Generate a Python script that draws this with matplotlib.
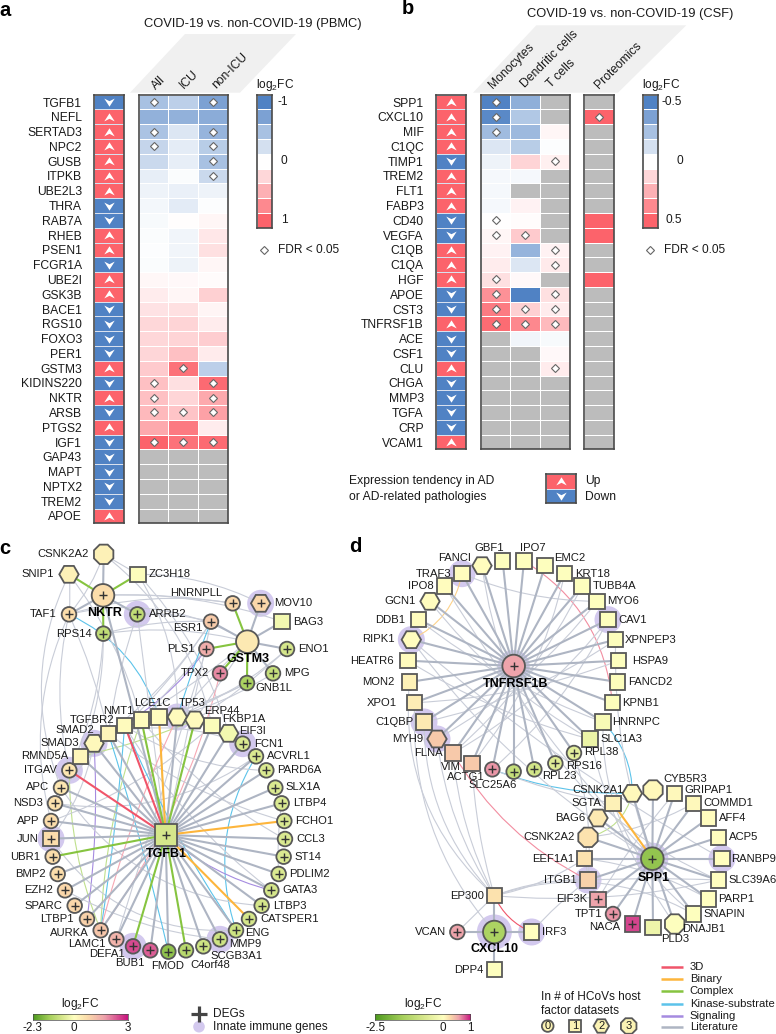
import numpy as np
import matplotlib
matplotlib.use("Agg")
import matplotlib.pyplot as plt
from matplotlib.colors import LinearSegmentedColormap, ListedColormap
from matplotlib.patches import Circle, RegularPolygon, Rectangle, Polygon, PathPatch
from matplotlib.path import Path

plt.rcParams['font.family'] = ['Liberation Sans', 'DejaVu Sans']
plt.rcParams['mathtext.fontset'] = 'custom'
plt.rcParams['mathtext.rm'] = 'Liberation Sans'
plt.rcParams['mathtext.default'] = 'rm'

W, H = 776, 1034
n = np.nan

# ---------------- heatmap data ----------------
genes_a = ["TGFB1","NEFL","SERTAD3","NPC2","GUSB","ITPKB","UBE2L3","THRA","RAB7A","RHEB","PSEN1","FCGR1A",
           "UBE2I","GSK3B","BACE1","RGS10","FOXO3","PER1","GSTM3","KIDINS220","NKTR","ARSB","PTGS2","IGF1",
           "GAP43","MAPT","NPTX2","TREM2","APOE"]
trend_a = [-1,1,1,1,1,1,1,-1,-1,1,1,-1,1,1,-1,-1,-1,-1,1,-1,1,-1,1,-1,-1,-1,-1,-1,1]
cols_a = ["All","ICU","non-ICU"]
values_a = [[-.5,-.38,-.75],[-.62,-.62,-.66],[-.48,-.2,-.6],[-.33,-.15,-.4],[-.3,-.14,-.5],[-.14,-.03,-.3],
            [-.1,-.12,-.1],[-.07,-.16,-.02],[-.04,.01,.06],[-.03,-.08,.15],[-.02,-.08,.2],[-.03,-.1,.06],
            [.05,.04,.03],[.12,.06,.3],[.18,.2,.07],[.25,.28,.12],[.25,.28,.32],[.26,.4,.13],[.34,.9,-.38],
            [.4,.2,.95],[.4,.27,.55],[.45,.38,.6],[.55,.85,.12],[1,.9,.95],
            [n,n,n],[n,n,n],[n,n,n],[n,n,n],[n,n,n]]
fdr_a = [(0,0),(0,2),(2,0),(2,2),(3,0),(3,2),(4,2),(5,2),(18,1),(19,0),(19,2),(20,0),(20,2),
         (21,0),(21,1),(21,2),(23,0),(23,1),(23,2)]

genes_b = ["SPP1","CXCL10","MIF","C1QC","TIMP1","TREM2","FLT1","FABP3","CD40","VEGFA","C1QB","C1QA","HGF",
           "APOE","CST3","TNFRSF1B","ACE","CSF1","CLU","CHGA","MMP3","TGFA","CRP","VCAM1"]
trend_b = [1,1,1,1,-1,1,1,1,-1,-1,1,1,1,-1,-1,1,-1,-1,1,-1,-1,-1,-1,1]
cols_b = ["Monocytes","Dendritic cells","T cells"]
values_b = [[-.5,-.32,n],[-.47,-.22,n],[-.27,-.28,.03],[-.1,-.2,-.01],[-.05,.14,.05],[-.03,-.03,n],[-.03,n,n],
            [-.03,.04,n],[0,.01,n],[.03,.17,n],[.04,-.3,.04],[.06,-.1,.07],[.1,.02,n],[.35,-.5,.1],[.42,.15,.06],
            [.47,.38,.22],[n,-.04,-.02],[n,n,.02],[n,n,.06],[n,n,n],[n,n,n],[n,n,n],[n,n,n],[n,n,n]]
fdr_b = [(0,0),(1,0),(2,0),(4,2),(8,0),(9,0),(9,1),(10,2),(11,2),(12,0),(13,0),(13,2),(14,0),(14,1),(14,2),
         (15,0),(15,1),(15,2),(18,2)]
prot_b = [n,.5,n,n,n,n,n,n,.5,.5,n,n,.5,n,n,n,n,n,n,n,n,n,n,n]
fdr_prot = [1]
cbar_levels = [-1,-.75,-.5,-.25,0,.25,.5,.75,1]

BLUE, RED, GRAY = "#5082c4", "#fc636b", "#bcbcbc"
heat = LinearSegmentedColormap.from_list("h", [BLUE, "#ffffff", RED])
heat.set_bad(GRAY)
strip_cm = ListedColormap([BLUE, RED])
FRAME = "#4a4a4a"
R = 14.78

fig = plt.figure(figsize=(W/100, H/100), dpi=100)
bg = fig.add_axes([0, 0, 1, 1], zorder=0)
bg.set_xlim(0, W); bg.set_ylim(H, 0); bg.axis("off")

def pxaxes(x0, y0, x1, y1, z=2):
    a = fig.add_axes([x0/W, 1-y1/H, (x1-x0)/W, (y1-y0)/H], zorder=z)
    a.set_xticks([]); a.set_yticks([])
    for s in a.spines.values():
        s.set_linewidth(1.2); s.set_color(FRAME)
    return a

up_chev = Path([(-1,-.75),(0,.8),(1,-.75),(0,-.25),(-1,-.75)], closed=True)
dn_chev = Path([(-1,.75),(0,-.8),(1,.75),(0,.25),(-1,.75)], closed=True)
CH = 7.5

def strip(x0, x1, y0, genes, tr):
    a = pxaxes(x0, y0, x1, y0+R*len(genes))
    arr = np.array(tr, float)[:, None]
    a.pcolormesh(arr, cmap=strip_cm, vmin=-1, vmax=1, edgecolors="#d8e0ee", linewidth=.45)
    a.set_ylim(len(genes), 0)
    for i, t in enumerate(tr):
        a.plot(.5, i+.5, marker=up_chev if t > 0 else dn_chev, ms=CH, color="white", mew=0)
    a.set_yticks(np.arange(len(genes))+.5)
    a.set_yticklabels(genes, fontsize=8.7, color="#1a1a1a")
    a.tick_params(length=0, pad=9)
    return a

def hmap(x0, x1, y0, vals, fdr, vmax=1.0):
    arr = np.array(vals, float)
    a = pxaxes(x0, y0, x1, y0+R*arr.shape[0])
    a.pcolormesh(np.ma.masked_invalid(arr), cmap=heat, vmin=-vmax, vmax=vmax, edgecolors="white", linewidth=.45)
    a.set_ylim(arr.shape[0], 0)
    for r, c in fdr:
        a.plot(c+.5, r+.5, marker="D", ms=4.2, mfc="white", mec="#666666", mew=.8)
    return a

def cbar(x0, x1, y0, scale):
    a = pxaxes(x0, y0, x1, y0+R*9)
    a.pcolormesh(np.array(cbar_levels)[:, None]*scale, cmap=heat, vmin=-scale, vmax=scale, edgecolors="white", linewidth=.45)
    a.set_ylim(9, 0)
    return a

TOP = 94.7
strip(94.3, 124, TOP, genes_a, trend_a)
hmap(138.7, 227.7, TOP, values_a, fdr_a)
cbar(256.7, 271.7, TOP, 1)
strip(436.3, 466, TOP, genes_b, trend_b)
hmap(480.7, 569.7, TOP, values_b, fdr_b, .5)
hmap(583.7, 613.7, TOP, np.array(prot_b)[:, None], [(i, 0) for i in fdr_prot], .5)
cbar(643, 658, TOP, .5)

bg.add_patch(Polygon([(130,92.7),(185,34),(296,34),(240,92.7)], fc="#f0f0f0", ec="none"))
bg.add_patch(Polygon([(473,92.7),(536.3,25.3),(686.3,25.3),(618,92.7)], fc="#f0f0f0", ec="none"))

def T(x, y, s, size=8.6, **k):
    k.setdefault("ha", "center"); k.setdefault("va", "center"); k.setdefault("color", "#1a1a1a")
    return bg.text(x, y, s, fontsize=size, **k)

T(252.7, 24, "COVID-19 vs. non-COVID-19 (PBMC)", 9.3)
T(630.3, 14, "COVID-19 vs. non-COVID-19 (CSF)", 9.3)
for (x, y), s in zip([(158.3,82.7),(189.3,79.3),(230,70.7)], cols_a):
    T(x, y, s, 8.7, rotation=45, rotation_mode="anchor")
for (x, y), s in zip([(512,65.7),(549.7,59),(561.3,74),(618,65)], cols_b+["Proteomics"]):
    T(x, y, s, 8.7, rotation=45, rotation_mode="anchor")

T(275, 85, "log$_2$FC", 8.6); T(661.3, 85, "log$_2$FC", 8.6)
for y, s, x in zip([0, 4, 8], ["-1","0","1"], [282.7,284,284]):
    T(x, TOP+(y+.5)*R, s)
for y, s, x in zip([0, 4, 8], ["-0.5","0","0.5"], [672,680,674]):
    T(x, TOP+(y+.5)*R, s)
for x, tx in [(264,277.7),(650.3,664)]:
    bg.plot(x, 250, marker="D", ms=4.2, mfc="white", mec="#666666", mew=.8)
    T(tx, 250, "FDR < 0.05", 8.6, ha="left")

T(349, 481.3, "Expression tendency in AD", 8.7, ha="left")
T(349, 496.7, "or AD-related pathologies", 8.7, ha="left")
lg = pxaxes(545.7, 474, 575.7, 503.3)
lg.pcolormesh(np.array([[1.],[-1.]]), cmap=strip_cm, vmin=-1, vmax=1, edgecolors="#d8e0ee", linewidth=.45)
lg.set_ylim(2, 0)
lg.plot(.5, .5, marker=up_chev, ms=CH, color="white", mew=0)
lg.plot(.5, 1.5, marker=dn_chev, ms=CH, color="white", mew=0)
T(584.7, 481.3, "Up", 8.7, ha="left"); T(584.7, 496.7, "Down", 8.7, ha="left")

for x, y, s in [(5,10,"a"),(408,9,"b"),(5,548,"c"),(355,547,"d")]:
    T(x, y, s, 14.5, fontweight="bold", color="black")

# ---------------- network data ----------------
net = LinearSegmentedColormap.from_list("n", [(0,"#4e9a1f"),(.2,"#a6d05c"),(.36,"#d8e88e"),(.5,"#ffffc0"),
                                              (.62,"#fbdcaa"),(.78,"#eea3ab"),(1,"#c7147e")])
def fc_col(v, lo, hi):
    return net(.5 + .5*v/hi if v >= 0 else .5 + .5*v/abs(lo))

FRAMES = {"A":(0,535), "B":(0,785), "C":(388,535), "D":(388,785)}
# name, frame, node x, node y, label x, label y, shape, log2FC, is DEG, innate immune
nodes_c = [
 ("CSNK2A2","A",311,58,190,58,"oct",.3,0,0),("SNIP1","A",207,118,114,118,"hex",.3,0,0),
 ("ZC3H18","A",414,118,508,118,"sq",-.05,0,0),("NKTR","A",309,181,313,233,"hub",.7,1,0),
 ("TAF1","A",207,238,130,238,"c",.7,1,0),("ARRB2","A",412,238,503,238,"c",-1.,1,1),
 ("RPS14","A",310,296,222,298,"c",-1.,1,0),("HNRNPLL","A",698,205,590,175,"c",.8,1,0),
 ("MOV10","A",782,205,879,205,"hex",.8,1,1),("BAG3","A",846,260,925,260,"sq",-.2,0,0),
 ("ESR1","A",633,260,563,278,"c",1.,1,0),("GSTM3","A",742,320,744,373,"hub",.45,0,0),
 ("PLS1","A",619,342,543,342,"c",1.5,1,0),("ENO1","A",861,342,940,342,"c",-.7,1,0),
 ("TPX2","A",660,415,584,414,"c",1.9,1,0),("MPG","A",819,415,890,414,"c",-.9,1,0),
 ("GNB1L","A",741,444,821,458,"c",-1.3,1,0),
 ("ITGAV","A",208,706,122,706,"c",.5,1,1),("RMND5A","A",241,664,135,664,"sq",.2,0,0),
 ("SMAD3","A",282,625,180,624,"hex",.15,0,1),("SMAD2","A",325,595,226,585,"sq",.2,0,0),
 ("TGFBR2","A",374,571,275,555,"sq",.1,0,0),("NMT1","A",424,555,355,527,"sq",.05,0,0),
 ("LCE1C","A",477,546,458,505,"sq",.05,0,0),("TP53","A",532,546,576,505,"hex",.1,0,1),
 ("ERP44","A",585,555,665,527,"hex",.1,0,0),("FKBP1A","A",636,571,730,553,"sq",-.08,0,0),
 ("EIF3I","A",686,595,757,587,"hex",-.2,0,0),("FCN1","A",728,626,805,626,"c",-.6,1,1),
 ("ACVRL1","A",768,664,866,664,"c",-.6,1,0),("PARD6A","A",799,706,899,706,"c",-.6,1,0),
 ("SLX1A","B",826,8,910,5,"c",-.6,1,0),("LTBP4","B",845,55,928,55,"c",-.6,1,0),
 ("FCHO1","B",853,108,944,108,"c",-.6,1,0),("CCL3","B",855,162,933,162,"c",-.6,1,0),
 ("ST14","B",851,215,925,215,"c",-.6,1,0),("PDLIM2","B",836,267,928,267,"c",-.6,1,0),
 ("GATA3","B",814,316,901,316,"c",-.7,1,0),("LTBP3","B",785,362,869,362,"c",-.7,1,0),
 ("CATSPER1","B",747,402,869,402,"c",-.7,1,0),("ENG","B",708,436,771,445,"c",-.8,1,0),
 ("MMP9","B",660,463,735,478,"c",-.8,1,1),("SCGB3A1","B",610,484,711,512,"c",-.8,1,0),
 ("C4orf48","B",558,496,630,540,"c",-1.1,1,0),("FMOD","B",505,500,503,543,"c",-1.6,1,0),
 ("BUB1","B",451,496,391,534,"c",2.3,1,0),("DEFA1","B",399,484,320,506,"c",2.5,1,1),
 ("LAMC1","B",349,463,262,477,"c",1.4,1,0),("AURKA","B",302,436,207,443,"c",1.1,1,0),
 ("LTBP1","B",261,402,172,402,"c",.9,1,0),("SPARC","B",224,362,129,362,"c",.8,1,0),
 ("EZH2","B",195,316,115,316,"c",.8,1,0),("BMP2","B",173,267,90,267,"c",.7,1,0),
 ("UBR1","B",158,215,77,215,"c",.7,1,0),("JUN","B",153,161,82,161,"sq",.7,1,1),
 ("APP","B",153,108,85,108,"c",.7,1,0),("NSD3","B",165,55,84,55,"c",.6,1,0),
 ("APC","B",183,8,113,6,"c",.5,1,0),("TGFB1","B",497,150,500,206,"hubsq",-.7,1,0),
]
nodes_d = [
 ("TNFRSF1B","C",377,393,382,446,"hub",.55,1,1),("GBF1","C",344,78,305,40,"sq",-.03,0,0),
 ("IPO7","C",408,78,435,40,"sq",-.03,0,0),("EMC2","C",471,92,545,69,"sq",-.03,0,0),
 ("KRT18","C",530,116,615,116,"sq",-.03,0,0),("TUBB4A","C",582,153,679,153,"sq",-.03,0,0),
 ("MYO6","C",627,199,705,199,"sq",-.03,0,0),("CAV1","C",660,254,734,254,"sq",-.03,0,1),
 ("XPNPEP3","C",683,314,787,314,"sq",-.05,0,0),("HSPA9","C",692,377,786,377,"sq",-.03,0,0),
 ("FANCD2","C",689,441,786,441,"sq",-.05,0,0),("KPNB1","C",673,503,757,503,"sq",-.05,0,0),
 ("HNRNPC","C",645,561,744,561,"sq",-.15,0,0),("SLC1A3","C",606,612,700,612,"sq",-.35,0,0),
 ("RPL38","C",558,654,641,652,"c",-.5,1,0),("RPS16","C",502,685,588,692,"c",-.6,1,0),
 ("RPL23","C",439,703,514,722,"c",-.8,1,0),("SLC25A6","C",377,710,315,750,"c",-1.,1,0),
 ("ACTG1","C",313,703,235,725,"c",.6,1,0),("VIM","C",252,685,189,695,"sq",.35,0,0),
 ("FLNA","C",195,654,120,653,"sq",.35,0,0),("MYH9","C",147,612,60,612,"hex",.35,0,1),
 ("C1QBP","C",108,561,18,561,"sq",.15,0,1),("XPO1","C",80,503,-19,503,"sq",.12,0,0),
 ("MON2","C",64,441,-30,441,"sq",.1,0,0),("HEATR6","C",60,377,-48,377,"sq",.03,0,0),
 ("RIPK1","C",70,314,-29,313,"hex",.02,0,1),("DDB1","C",92,254,6,254,"sq",.02,0,0),
 ("GCN1","C",126,199,36,199,"hex",.02,0,0),("IPO8","C",170,153,97,153,"sq",.02,0,0),
 ("TRAF3","C",222,116,138,116,"sq",.02,0,1),("FANCI","C",282,92,199,70,"hex",.02,0,0),
 ("SPP1","D",793,221,797,278,"hub",-1.7,1,1),("CSNK2A1","D",733,25,630,14,"hex",.05,0,0),
 ("CYB5R3","D",795,15,892,-19,"oct",.05,0,0),("GRIPAP1","D",860,25,960,14,"sq",.05,0,0),
 ("COMMD1","D",917,55,1020,55,"sq",.05,0,0),("AFF4","D",962,99,1035,99,"sq",.02,0,0),
 ("ACP5","D",992,157,1066,157,"sq",.02,0,0),("RANBP9","D",1002,221,1098,221,"sq",.01,0,1),
 ("SLC39A6","D",991,285,1095,285,"sq",0,0,0),("PARP1","D",962,342,1045,342,"sq",0,0,0),
 ("SNAPIN","D",917,387,1008,387,"sq",-.02,0,0),("DNAJB1","D",860,417,948,432,"oct",-.02,0,0),
 ("PLD3","D",795,427,862,463,"sq",-.3,0,0),("NACA","D",733,417,650,427,"sq",.85,1,0),
 ("TPT1","D",675,387,601,387,"c",.6,1,0),("EIF3K","D",630,343,550,343,"sq",.55,1,0),
 ("ITGB1","D",600,285,518,285,"sq",.3,0,1),("EEF1A1","D",590,221,495,221,"sq",.2,0,0),
 ("CSNK2A2","D",600,157,484,157,"oct",.2,0,0),("BAG6","D",630,99,547,99,"hex",.15,0,0),
 ("SGTA","D",675,55,595,55,"sq",.1,0,0),("EP300","D",319,332,236,332,"sq",.2,0,0),
 ("CXCL10","D",319,441,320,493,"hub",-1.4,1,2),("VCAN","D",208,441,128,441,"c",.55,1,0),
 ("IRF3","D",431,441,498,441,"sq",0,0,1),("DPP4","D",319,554,242,554,"sq",-.02,0,0),
]
LIT, RD, OR, GR, BL, PU = "#aeb5c3", "#f0556a", "#fdb53c", "#86c440", "#5cc3ea", "#a58be0"
TH = "#c9cdd8"
# thick spokes: hub -> members, with the colour of the interaction
spokes_c = {
 "TGFB1":{LIT:["RMND5A","SMAD3","SMAD2","TP53","FKBP1A","EIF3I","FCN1","ACVRL1","PARD6A","SLX1A","LTBP4","CCL3","ST14",
               "PDLIM2","GATA3","LTBP3","ENG","MMP9","SCGB3A1","FMOD","BUB1","LAMC1","AURKA","LTBP1","SPARC","EZH2","BMP2",
               "JUN","APP","NSD3","APC","NKTR"],
          RD:["ITGAV","TGFBR2"],OR:["LCE1C","FCHO1","CATSPER1"],GR:["NMT1","ERP44","UBR1","DEFA1","C4orf48"]},
 "NKTR":{LIT:["CSNK2A2","TAF1","ARRB2"],GR:["SNIP1","ZC3H18","RPS14"]},
 "GSTM3":{LIT:["MOV10","BAG3","ESR1","ENO1","MPG"],GR:["HNRNPLL","PLS1","TPX2","GNB1L"]},
}
spokes_d = {
 "TNFRSF1B":{LIT:["GBF1","IPO7","EMC2","KRT18","TUBB4A","MYO6","CAV1","XPNPEP3","HSPA9","FANCD2","KPNB1","HNRNPC","SLC1A3",
                  "RPL38","RPS16","RPL23","SLC25A6","ACTG1","VIM","FLNA","MYH9","C1QBP","XPO1","MON2","HEATR6","RIPK1","DDB1",
                  "GCN1","IPO8","TRAF3","FANCI"]},
 "SPP1":{LIT:["CSNK2A1","CYB5R3","GRIPAP1","COMMD1","AFF4","ACP5","RANBP9","SLC39A6","PARP1","SNAPIN","DNAJB1","PLD3","NACA",
              "TPT1","EIF3K","ITGB1","EEF1A1","CSNK2A2","BAG6"],OR:["SGTA"]},
 "CXCL10":{LIT:["EP300","VCAN","IRF3","DPP4"]},
}
# thin curved interactions: a, b, bend, colour
arcs_c = [("CSNK2A2","ZC3H18",0,TH),("SNIP1","TAF1",.05,TH),("CSNK2A2","TAF1",.1,TH),("ZC3H18","MOV10",.12,TH),
 ("TAF1","HNRNPLL",.12,TH),("NKTR","HNRNPLL",.05,TH),("NKTR","BAG3",.1,TH),("ARRB2","ESR1",.08,TH),("RPS14","ESR1",.08,TH),
 ("RPS14","GSTM3",.1,TH),("TAF1","LCE1C",.22,BL),("TAF1","GSTM3",.2,TH),("SNIP1","APC",-.22,TH),("TAF1","SMAD2",.05,TH),
 ("TAF1","ITGAV",-.12,TH),("RPS14","RMND5A",.1,TH),("RPS14","ITGAV",.1,TH),("TAF1","APP",-.18,TH),("SNIP1","NMT1",.1,TH),
 ("CSNK2A2","FKBP1A",.18,TH),("ZC3H18","TP53",.15,TH),("ZC3H18","EIF3I",.12,TH),("ARRB2","TGFB1",0,TH),("ARRB2","SMAD2",-.05,TH),
 ("ESR1","TGFB1",0,TH),("ESR1","SMAD3",.1,TH),("ESR1","ITGAV",.1,TH),("PLS1","SMAD2",.12,PU),("PLS1","LAMC1",0,TH),
 ("PLS1","NMT1",0,TH),("ESR1","TP53",-.02,BL),("TPX2","AURKA",.1,"#f7a8b4"),("GNB1L","NMT1",.08,TH),("GNB1L","LCE1C",.05,TH),
 ("MPG","TGFBR2",.12,TH),("ENO1","SMAD2",.15,TH),("ENO1","ERP44",.05,TH),("GSTM3","TP53",-.03,TH),("GSTM3","ERP44",0,TH),
 ("GSTM3","TGFBR2",.05,TH),("ACVRL1","ENG",-.23,BL),("LTBP4","PDLIM2",-.05,TH),("GATA3","TGFB1",.12,PU),("ITGAV","AURKA",-.1,"#bfe08c"),
 ("ERP44","RMND5A",.05,"#bfe08c"),("NMT1","AURKA",-.08,"#bfe08c"),("SMAD3","JUN",.12,TH),("SMAD3","LTBP1",.05,PU),("SMAD2","FCHO1",-.1,TH),
 ("TGFBR2","GATA3",-.1,TH),("NMT1","CCL3",-.1,TH),("APC","LTBP3",-.25,TH),("JUN","ENG",-.28,TH),("EZH2","MMP9",-.1,TH),
 ("LCE1C","TGFB1",0,BL),("FCN1","SMAD2",-.15,TH),("ACVRL1","NSD3",.2,TH),("PARD6A","TGFBR2",.15,TH),("APP","FKBP1A",-.1,TH),
 ("TGFBR2","AURKA",.02,BL),("SMAD2","FMOD",.02,BL),("TP53","AURKA",-.05,"#f7a8b4"),("TGFBR2","ENG",-.05,BL),("APC","SMAD2",.1,TH),("NSD3","TGFBR2",.1,TH)]
arcs_d = [("IPO7","KPNB1",.25,"#f28da0"),("TRAF3","RIPK1",.25,"#fdd28a"),("HNRNPC","CSNK2A1",.2,BL),("ACTG1","CSNK2A1",-.1,BL),
 ("CSNK2A1","CSNK2A2",.3,"#bfe08c"),("FLNA","ITGB1",-.15,"#f28da0"),("EP300","IRF3",-.2,RD),("RIPK1","RANBP9",-.05,TH),
 ("FANCI","SLC39A6",-.28,TH),("GCN1","SLC1A3",-.1,TH),("DDB1","HNRNPC",-.08,TH),("C1QBP","XPNPEP3",-.1,TH),("XPO1","HSPA9",-.08,TH),
 ("FLNA","TUBB4A",-.1,TH),("VIM","KRT18",-.12,TH),("FLNA","CAV1",-.1,TH),("MYH9","MYO6",-.1,TH),("ACTG1","CAV1",-.1,TH),
 ("IPO8","SPP1",-.05,TH),("RIPK1","SPP1",-.1,TH),("TRAF3","MYO6",-.1,TH),("C1QBP","EP300",-.2,TH),("MYH9","EP300",-.12,TH),
 ("XPO1","CXCL10",-.2,TH),("MON2","EP300",-.25,TH),("VIM","EP300",-.06,TH),("FLNA","EP300",-.1,TH),("ACTG1","SGTA",-.05,TH),("ITGB1","EP300",-.1,TH),("EP300","SLC39A6",-.08,TH),
 ("EP300","SNAPIN",.22,TH),("IRF3","ITGB1",.05,TH),("EP300","EEF1A1",-.1,TH),("VCAN","EP300",0,TH),
 ("SLC1A3","DNAJB1",-.1,TH),("HNRNPC","SNAPIN",-.25,TH),("EEF1A1","PARP1",.1,TH),("ITGB1","SLC39A6",.02,TH),("TPT1","CSNK2A2",.3,TH),
 ("GRIPAP1","EIF3K",-.05,TH),("CSNK2A2","COMMD1",-.1,TH),("RPL38","ITGB1",.1,TH),("XPNPEP3","SPP1",-.1,TH),("HEATR6","SLC1A3",-.08,TH)]

cb_c = (-2.3, 0, 3); cb_d = (-2.5, 0, 1)
edge_legend = ["3D","Binary","Complex","Kinase-substrate","Signaling","Literature"]
edge_legend_cols = [RD, OR, GR, BL, PU, LIT]
host_counts = ["0","1","2","3"]
host_shapes = ["c","sq","hex","oct"]

EC = "#585858"

def xy(f, x, y):
    ox, oy = FRAMES[f]
    return ox + x/3, oy + y/3

def shape(x, y, kind, col, z=5, s=1.0):
    kw = dict(fc=col, ec=EC, lw=1.3, zorder=z)
    if kind == "c": p = Circle((x, y), 7.3*s, **kw)
    elif kind == "hub": p = Circle((x, y), 11.3*s, **kw)
    elif kind == "sq": p = Rectangle((x-7.7*s, y-7.7*s), 15.4*s, 15.4*s, **kw)
    elif kind == "hubsq": p = Rectangle((x-11, y-11), 22, 22, **kw)
    elif kind == "hex": p = RegularPolygon((x, y), 6, radius=9.7*s, orientation=np.pi/2, **kw)
    else: p = RegularPolygon((x, y), 8, radius=10.5*s, orientation=np.pi/8, **kw)
    bg.add_patch(p)

def curve(a, b, rad, col, lw=.8, z=3):
    (x0, y0), (x1, y1) = a, b
    mx, my = (x0+x1)/2 + rad*(y1-y0), (y0+y1)/2 - rad*(x1-x0)
    bg.add_patch(PathPatch(Path([a, (mx, my), b], [Path.MOVETO, Path.CURVE3, Path.CURVE3]),
                           fc="none", ec=col, lw=lw, zorder=z))

def network(nodes, spokes, arcs, lo, hi, bold):
    pos = {r[0]: xy(r[1], r[2], r[3]) for r in nodes}
    for a, b, rad, col in arcs:
        curve(pos[a], pos[b], rad, col, .8, 2.5)
    for hub, groups in spokes.items():
        for col, members in groups.items():
            for m in members:
                bg.plot(*zip(pos[hub], pos[m]), color=col, lw=1.5, zorder=3 if col == LIT else 3.2, solid_capstyle="butt")
    for name, f, x, y, lx, ly, kind, fc, deg, hl in nodes:
        px, py = xy(f, x, y)
        if hl:
            r = {1: 13.5, 2: 17.5}[hl] if kind != "hub" else 16 if hl == 1 else 17.5
            bg.add_patch(Circle((px, py), r, fc="#d3c9ee", ec="none", zorder=2))
        shape(px, py, kind, fc_col(fc, lo, hi))
        if deg:
            bg.plot(px, py, marker="+", ms=5.5, mew=1, color="#333333", zorder=6)
        tx, ty = xy(f, lx, ly)
        if name in bold:
            T(tx, ty, name, 9, fontweight="bold", color="black", zorder=7)
        else:
            T(tx, ty, name, 8.1, zorder=7)

network(nodes_c, spokes_c, arcs_c, cb_c[0], cb_c[2], {"NKTR","GSTM3","TGFB1"})
network(nodes_d, spokes_d, arcs_d, cb_d[0], cb_d[2], {"TNFRSF1B","SPP1","CXCL10"})

# colour bars of the networks
def netbar(x0, x1, rng):
    a = pxaxes(x0, 1013.7, x1, 1019.7)
    g = np.linspace(rng[0], rng[2], 256)
    cols = np.array([fc_col(v, rng[0], rng[2]) for v in g])[None, :, :]
    a.imshow(cols, aspect="auto", extent=(rng[0], rng[2], 0, 1))
    for s in a.spines.values():
        s.set_linewidth(.5)
    a.set_xticks(rng); a.set_xticklabels([str(v) for v in rng], fontsize=8.4, color="#1a1a1a")
    a.tick_params(length=0, pad=1.5)
    return a
netbar(32.7, 127.7, cb_c); netbar(375, 470.3, cb_d)
T(80, 1004, "log$_2$FC", 8.6); T(423, 1004, "log$_2$FC", 8.6)

bg.plot(199, 1013.7, marker="+", ms=12, mew=2.3, color="#444444")
bg.add_patch(Circle((199, 1026.7), 5.8, fc="#d3c9ee", ec="none"))
T(212.7, 1013.7, "DEGs", 8.6, ha="left"); T(212.7, 1026.7, "Innate immune genes", 8.6, ha="left")

T(541.3, 997, "In # of HCoVs host", 8.6, ha="left"); T(541.3, 1011, "factor datasets", 8.6, ha="left")
for x, s, k in zip([547.7,575,601.3,628.7], host_counts, host_shapes):
    shape(x, 1026, k, "#fbf3b4", s=.8)
    T(x, 1026, s, 8, zorder=7)

for y, s, c in zip([966.7,979,991.3,1003.7,1016,1027.3], edge_legend, edge_legend_cols):
    bg.plot([660.7, 683.3], [y, y], color=c, lw=1.8, solid_capstyle="butt")
    T(689.7, y, s, 8.1, ha="left")

fig.savefig("out.png", dpi=100)
